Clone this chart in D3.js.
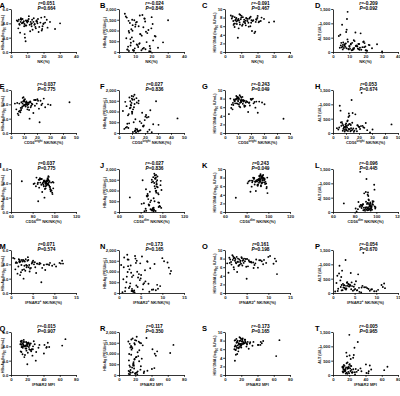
<!DOCTYPE html>
<html>
<head>
<meta charset="utf-8">
<script src="https://cdn.jsdelivr.net/npm/d3@7"></script>
<style>
body { margin: 0; background: #fff; }
svg { display: block; font-family: "Liberation Sans", Arial, sans-serif; }
</style>
</head>
<body>
<div id="chart"></div>
<script>
// one entry per patient, same order in every array
const nk = [
    4.2, 5.1, 6.0, 7.3, 8.1, 9.0, 10.2, 11.5, 12.8, 14.0, 15.3,
    16.1, 17.4, 18.6, 19.9, 21.0, 4.8, 5.6, 6.7, 7.9, 8.6, 9.4,
    10.9, 12.1, 13.3, 14.6, 15.8, 17.0, 18.1, 19.4, 20.7, 22.5, 24.0,
    27.1, 30.2, 3.6, 5.3, 6.3, 7.0, 8.4, 9.7, 11.0, 12.4, 13.8,
    15.0, 16.6, 18.9, 20.1, 6.1, 7.6, 8.9, 10.5, 11.8, 13.0, 14.4,
    16.3, 4.5, 5.9, 7.1, 8.3, 9.2, 10.0, 12.7, 15.6, 19.2, 22.0
];
const cd56bright = [
    8.0, 12.5, 10.2, 6.4, 15.1, 22.0, 9.3, 18.4, 11.0, 20.3, 4.1,
    13.7, 7.5, 25.2, 10.8, 16.0, 9.9, 5.2, 12.0, 45.0, 14.3, 8.7,
    19.1, 11.5, 6.9, 23.4, 10.4, 17.2, 3.0, 13.1, 9.0, 21.5, 12.8,
    7.8, 28.5, 11.9, 15.6, 10.1, 19.8, 5.8, 14.0, 9.6, 30.4, 12.2,
    8.4, 17.8, 6.1, 13.4, 10.7, 24.1, 11.3, 15.0, 7.2, 20.8, 9.8,
    16.5, 12.6, 4.8, 18.7, 10.0, 14.8, 8.9, 26.3, 11.7, 13.9, 22.7
];
const cd56dim = [
    95.5, 92.2, 93.9, 97.0, 90.3, 85.1, 94.6, 88.0, 93.1, 86.7, 99.0,
    91.4, 96.0, 83.5, 93.4, 89.6, 94.1, 98.0, 92.5, 70.0, 90.9, 95.2,
    87.4, 92.9, 96.5, 84.6, 93.6, 88.8, 99.2, 91.9, 94.8, 86.0, 92.0,
    96.2, 81.8, 92.6, 89.9, 94.4, 87.0, 98.3, 91.1, 94.5, 80.9, 92.3,
    95.7, 88.5, 97.4, 91.6, 93.8, 84.9, 92.8, 90.2, 96.6, 86.4, 94.2,
    89.1, 92.0, 98.5, 87.8, 94.3, 90.5, 95.0, 83.0, 93.2, 91.3, 85.6
];
const ifnar2Pos = [
    1.2, 3.5, 2.0, 6.8, 4.1, 7.0, 2.7, 9.5, 5.3, 1.8, 3.0,
    11.2, 4.6, 0.8, 2.4, 6.1, 3.8, 1.5, 8.2, 5.0, 2.9, 10.4,
    4.0, 1.1, 3.3, 7.6, 2.2, 5.8, 12.0, 3.6, 0.5, 4.4, 9.0,
    2.6, 6.5, 1.9, 3.1, 11.8, 4.8, 2.1, 5.5, 3.9, 8.8, 1.4,
    7.2, 2.8, 4.3, 10.0, 3.4, 6.0, 1.7, 4.9, 2.3, 5.1, 3.7,
    8.5, 1.0, 6.6, 2.5, 4.2, 3.2, 11.5, 5.6, 2.0, 7.9, 3.0
];
const ifnar2Mfi = [
    15.2, 22.0, 12.5, 18.3, 25.6, 20.1, 14.0, 43.5, 16.8, 28.0, 11.9,
    19.5, 23.7, 13.4, 47.0, 17.6, 21.2, 26.4, 14.8, 12.2, 30.5, 18.9,
    16.1, 41.2, 20.7, 13.0, 24.3, 17.2, 63.0, 22.5, 15.7, 19.0, 35.0,
    12.8, 27.1, 21.8, 14.5, 45.3, 18.0, 16.4, 23.0, 67.0, 13.6, 20.4,
    25.0, 15.0, 40.5, 19.8, 12.0, 22.9, 17.9, 29.2, 14.2, 21.5, 33.8,
    16.9, 24.8, 13.2, 18.6, 44.0, 20.0, 15.5, 26.9, 11.5, 31.0, 19.2
];
const hbsag = [
    4.3, 3.9, 4.6, 4.1, 3.6, 1.5, 4.4, 3.8, 4.0, 4.7, 3.3,
    4.2, 3.5, 4.8, 3.9, 4.1, 4.5, 2.7, 4.0, 4.3, 2.0, 3.7,
    4.6, 4.2, 3.1, 3.9, 4.4, 2.8, 4.1, 3.6, 4.9, 3.4, 4.2,
    3.2, 4.0, 4.4, 3.8, 4.5, 4.1, 2.5, 4.3, 5.0, 3.9, 4.2,
    3.5, 4.6, 3.0, 4.0, 4.7, 4.1, 3.7, 4.3, 2.9, 4.5, 3.8,
    4.0, 3.3, 4.2, 4.6, 3.9, 4.4, 4.1, 3.6, 4.3, 3.2, 4.5
];
const hbeag = [
    1650, 120, 980, 430, 1500, 60, 1280, 320, 1700, 760, 190,
    1420, 880, 40, 1100, 540, 1600, 250, 1350, 680, 90, 1480,
    350, 1200, 820, 150, 1550, 460, 1020, 30, 1300, 720, 200,
    450, 1480, 1780, 110, 900, 600, 1250, 170, 1400, 380, 80,
    1150, 940, 280, 1620, 50, 1060, 500, 1380, 230, 840, 1720,
    130, 640, 1450, 300, 990, 70, 1180, 410, 1560, 160, 750
];
const hbvDna = [
    7.8, 7.2, 8.1, 6.5, 7.5, 6.9, 8.4, 7.0, 6.2, 7.7, 8.0,
    6.8, 7.4, 4.7, 7.9, 7.1, 8.3, 6.6, 7.6, 3.3, 7.3, 8.6,
    6.4, 7.0, 7.8, 5.9, 8.2, 7.2, 4.4, 7.5, 6.9, 8.0, 7.7,
    6.9, 7.1, 8.5, 6.3, 7.4, 7.9, 5.5, 7.6, 8.1, 6.7, 7.2,
    7.8, 4.9, 7.0, 8.4, 6.6, 7.3, 8.8, 6.1, 7.5, 7.9, 6.8,
    7.4, 8.2, 5.8, 7.1, 7.7, 6.4, 8.0, 7.3, 6.0, 7.6, 7.2
];
const alt = [
    150, 320, 90, 250, 700, 1400, 180, 60, 410, 210, 120,
    280, 80, 350, 190, 40, 230, 950, 140, 300, 1150, 110,
    260, 70, 380, 200, 100, 650, 170, 310, 50, 240, 130,
    270, 20, 560, 160, 330, 220, 780, 90, 290, 120, 680,
    200, 150, 370, 60, 250, 180, 440, 110, 320, 140, 230,
    80, 600, 190, 270, 130, 360, 210, 100, 280, 170, 250
];

// tick labels
const nkTicks = [0, 10, 20, 30, 40];
const brightTicks = [0, 10, 20, 30, 40, 50];
const dimTicks = [60, 80, 100, 120];
const ifnarPosTicks = [0, 5, 10, 15];
const mfiTicks = [0, 20, 40, 60, 80];
const hbsagTicks = [0, 2, 4, 6];
const hbeagTicks = [0, 500, 1000, 1500, 2000];
const dnaTicks = [0, 2, 4, 6, 8, 10];
const altTicks = [0, 500, 1000, 1500];

// correlation results, panels A..T
const panelLetters = ["A","B","C","D","E","F","G","H","I","J","K","L","M","N","O","P","Q","R","S","T"];
const rValues = ["0.051","-0.024","-0.091","-0.209","-0.037","0.027","-0.243","0.053","0.037","-0.027",
                 "0.243","-0.096","0.071","0.173","0.161","-0.054","-0.015","0.117","-0.173","-0.005"];
const pValues = ["0.664","0.846","0.467","0.092","0.775","0.836","0.049","0.674","0.775","0.836",
                 "0.049","0.445","0.574","0.165","0.198","0.670","0.907","0.350","0.165","0.965"];

const rows = [
    {values: nk, ticks: nkTicks, title: [["NK(%)"]]},
    {values: cd56bright, ticks: brightTicks, title: [["CD56"], ["bright", "sup"], [" NK/NK(%)"]]},
    {values: cd56dim, ticks: dimTicks, title: [["CD56"], ["dim", "sup"], [" NK/NK(%)"]]},
    {values: ifnar2Pos, ticks: ifnarPosTicks, title: [["IFNAR2"], ["+", "sup"], [" NK/NK(%)"]]},
    {values: ifnar2Mfi, ticks: mfiTicks, title: [["IFNAR2 MFI"]]}
];
const cols = [
    {values: hbsag, ticks: hbsagTicks, title: [["HBsAg (log"], ["10", "sub"], [" IU/mL)"]]},
    {values: hbeag, ticks: hbeagTicks, title: [["HBeAg (PEIU/mL)"]]},
    {values: hbvDna, ticks: dnaTicks, title: [["HBV DNA (log"], ["10", "sub"], [" IU/mL)"]]},
    {values: alt, ticks: altTicks, title: [["ALT (U/L)"]]}
];

// layout
const W = 400, H = 396;
const colLeft = [11, 119, 225, 333];
const titleOffset = [7, 13, 9, 12];
const letterX = [-0.5, 100, 202, 315];
const rowBottom = [52, 133, 212, 293, 375];
const plotW = 65, plotH = 43;
const fs = 4.3;
const titleFs = 3.7;

const svg = d3.select("#chart").append("svg")
    .attr("width", W)
    .attr("height", H);

function addRich(textSel, parts, size) {
    parts.forEach(p => {
        const t = textSel.append("tspan").text(p[0]);
        if (p[1] === "sup") t.attr("baseline-shift", "super").attr("font-size", size * 0.7);
        if (p[1] === "sub") t.attr("baseline-shift", "sub").attr("font-size", size * 0.7);
    });
}

rows.forEach((row, ri) => {
    cols.forEach((col, ci) => {
        const idx = ri * 4 + ci;
        const x0 = colLeft[ci];
        const yb = rowBottom[ri];
        const yt = yb - plotH;

        const x = d3.scaleLinear()
            .domain(d3.extent(row.ticks))
            .range([x0, x0 + plotW]);
        const y = d3.scaleLinear()
            .domain(d3.extent(col.ticks))
            .range([yb, yt]);

        const g = svg.append("g");

        const xAxis = g.append("g")
            .attr("transform", `translate(0,${yb})`)
            .call(d3.axisBottom(x).tickValues(row.ticks).tickSize(1.8).tickPadding(0.8).tickSizeOuter(0));
        const yAxis = g.append("g")
            .attr("transform", `translate(${x0},0)`)
            .call(d3.axisLeft(y).tickValues(col.ticks).tickSize(1.8).tickPadding(0.8).tickSizeOuter(0));

        [xAxis, yAxis].forEach(a => {
            a.attr("font-size", fs).attr("font-family", null).attr("font-weight", "bold");
            a.select(".domain").attr("stroke", "#000").attr("stroke-width", 0.8);
            a.selectAll(".tick line").attr("stroke", "#000").attr("stroke-width", 0.8);
            a.selectAll(".tick text").attr("fill", "#222");
        });

        // x title
        const xt = g.append("text")
            .attr("x", x0 + plotW / 2)
            .attr("y", yb + 10.5)
            .attr("text-anchor", "middle")
            .attr("font-size", titleFs + 0.4)
            .attr("font-weight", "bold")
            .attr("fill", "#222");
        addRich(xt, row.title, titleFs + 0.4);

        // y title
        const yTitle = g.append("text")
            .attr("transform", `translate(${x0 - titleOffset[ci]},${(yb + yt) / 2 + 2}) rotate(-90)`)
            .attr("text-anchor", "middle")
            .attr("font-size", titleFs)
            .attr("font-weight", "bold")
            .attr("fill", "#222");
        addRich(yTitle, col.title, titleFs);

        // points
        g.selectAll("circle")
            .data(d3.range(row.values.length))
            .join("circle")
            .attr("cx", i => x(row.values[i]))
            .attr("cy", i => y(col.values[i]))
            .attr("r", 0.95)
            .attr("fill", "#000");

        // stats
        const cx = x0 + plotW / 2 + 3;
        const rt = g.append("text")
            .attr("x", cx).attr("y", yt - 4.5)
            .attr("text-anchor", "middle")
            .attr("font-size", fs + 0.5)
            .attr("font-weight", "bold");
        rt.append("tspan").attr("font-style", "italic").text("r");
        rt.append("tspan").text("=" + rValues[idx]);
        const pt = g.append("text")
            .attr("x", cx).attr("y", yt + 0.5)
            .attr("text-anchor", "middle")
            .attr("font-size", fs + 0.5)
            .attr("font-weight", "bold");
        pt.append("tspan").attr("font-style", "italic").text("P");
        pt.append("tspan").text("=" + pValues[idx]);

        // panel letter
        g.append("text")
            .attr("x", letterX[ci])
            .attr("y", yt - 1)
            .attr("font-size", 7.5)
            .attr("font-weight", "bold")
            .text(panelLetters[idx]);
    });
});
</script>
</body>
</html>
